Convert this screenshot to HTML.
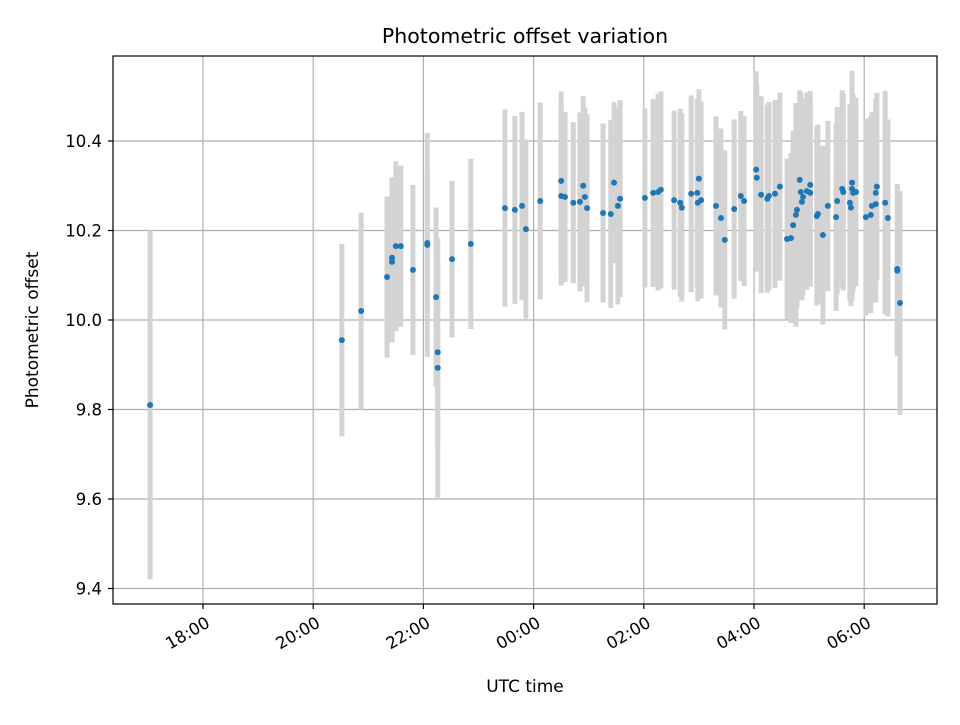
<!DOCTYPE html>
<html><head><meta charset="utf-8"><style>
body{margin:0;background:#fff;font-family:"Liberation Sans","DejaVu Sans",sans-serif}
svg text{font-family:"DejaVu Sans","Liberation Sans",sans-serif}
</style></head><body>
<svg id="chart" width="960" height="720" xmlns="http://www.w3.org/2000/svg">
<rect width="960" height="720" fill="#fff"/>
<text x="525" y="43" font-size="20.5" text-anchor="middle">Photometric offset variation</text>
<text x="525" y="692" font-size="17" text-anchor="middle">UTC time</text>
<text transform="translate(38,330) rotate(-90)" font-size="17" text-anchor="middle">Photometric offset</text>
<g id="grid"></g>
<g id="errs"></g>
<g id="pts"></g>
<g id="axes"></g>
<rect x="113" y="56" width="824" height="548" fill="none" stroke="#000" stroke-width="1.2"/>
</svg>
<script>
// hours since 18:00 UTC
const times=[-0.96,2.52,2.87,3.34,3.43,3.43,3.50,3.59,3.81,4.07,4.07,4.23,4.26,4.26,4.52,4.86,5.48,5.66,5.79,5.86,6.12,6.50,6.50,6.57,6.72,6.84,6.90,6.93,6.97,7.26,7.40,7.46,7.53,7.57,8.02,8.17,8.26,8.31,8.55,8.66,8.69,8.86,8.97,9.00,8.98,9.04,9.31,9.40,9.47,9.64,9.76,9.82,10.04,10.05,10.13,10.24,10.27,10.38,10.47,10.60,10.67,10.71,10.76,10.78,10.83,10.85,10.87,10.89,10.96,11.02,11.02,11.14,11.16,11.25,11.34,11.49,11.51,11.60,11.62,11.74,11.76,11.78,11.78,11.80,11.85,12.03,12.12,12.14,12.21,12.21,12.23,12.38,12.43,12.60,12.60,12.65];
const values=[9.810,9.955,10.020,10.096,10.139,10.130,10.165,10.165,10.112,10.168,10.172,10.051,9.928,9.893,10.136,10.170,10.250,10.246,10.255,10.203,10.266,10.311,10.277,10.275,10.262,10.264,10.300,10.275,10.250,10.239,10.237,10.307,10.255,10.271,10.273,10.284,10.286,10.291,10.268,10.262,10.251,10.282,10.284,10.316,10.262,10.268,10.255,10.228,10.179,10.248,10.277,10.266,10.336,10.318,10.280,10.271,10.277,10.282,10.298,10.181,10.183,10.212,10.235,10.246,10.313,10.286,10.264,10.275,10.288,10.302,10.284,10.232,10.237,10.190,10.255,10.230,10.266,10.293,10.286,10.262,10.251,10.307,10.293,10.284,10.286,10.230,10.235,10.255,10.259,10.284,10.298,10.262,10.228,10.114,10.110,10.038];
const errors=[0.39,0.215,0.22,0.18,0.18,0.18,0.19,0.18,0.19,0.25,0.16,0.2,0.21,0.29,0.175,0.19,0.22,0.21,0.21,0.2,0.22,0.2,0.2,0.19,0.18,0.2,0.2,0.2,0.21,0.2,0.21,0.18,0.22,0.22,0.2,0.21,0.22,0.22,0.2,0.21,0.21,0.22,0.21,0.2,0.22,0.22,0.2,0.2,0.2,0.2,0.19,0.19,0.22,0.21,0.22,0.21,0.21,0.21,0.21,0.18,0.19,0.21,0.25,0.22,0.2,0.22,0.22,0.22,0.22,0.21,0.21,0.2,0.2,0.2,0.19,0.21,0.21,0.22,0.22,0.22,0.22,0.25,0.25,0.22,0.21,0.22,0.22,0.21,0.22,0.21,0.21,0.25,0.22,0.19,0.19,0.25];
const yTicks=[9.4,9.6,9.8,10.0,10.2,10.4];
const yTickLabels=["9.4","9.6","9.8","10.0","10.2","10.4"];
const xTicks=[0,2,4,6,8,10,12];
const xTickLabels=["18:00","20:00","22:00","00:00","02:00","04:00","06:00"];

const NS="http://www.w3.org/2000/svg";
function X(h){return 203+h*55.1;}
function Y(v){return 320-(v-10)*447.5;}
function mk(tag,attrs,parent){const e=document.createElementNS(NS,tag);for(const k in attrs)e.setAttribute(k,attrs[k]);parent.appendChild(e);return e;}
const grid=document.getElementById('grid'),axes=document.getElementById('axes'),errs=document.getElementById('errs'),pts=document.getElementById('pts');
yTicks.forEach((t,i)=>{
  const y=Y(t);
  const g=mk('line',{x1:113,x2:937,y1:y,y2:y,stroke:'#b0b0b0','stroke-width':1.2},grid);
  
  
  const tk=mk('line',{x1:108,x2:113,y1:y,y2:y,stroke:'#000','stroke-width':1.2},axes);
  
  
  const tx=mk('text',{x:102,y:y+6,'font-size':16.5,'text-anchor':'end'},axes);
  tx.textContent=yTickLabels[i];
  
  
});
xTicks.forEach((t,i)=>{
  const x=X(t);
  const g=mk('line',{x1:x,x2:x,y1:56,y2:604,stroke:'#b0b0b0','stroke-width':1.2},grid);
  
  
  const tk=mk('line',{x1:x,x2:x,y1:604,y2:609,stroke:'#000','stroke-width':1.2},axes);
  
  
  const tx=mk('text',{transform:`translate(${x+8},${626}) rotate(-30)`,'font-size':16.5,'text-anchor':'end'},axes);
  tx.textContent=xTickLabels[i];
  
  
});
times.forEach((t,i)=>{
  const x=X(t);
  const b=mk('line',{x1:x,x2:x,y1:Y(values[i]+errors[i]),y2:Y(values[i]-errors[i]),stroke:'#d3d3d3','stroke-width':5},errs);
  
  
});
times.forEach((t,i)=>{
  const c=mk('circle',{cx:X(t),cy:Y(values[i]),r:3,fill:'#1f77b4'},pts);
  
  
});
</script>
</body></html>
